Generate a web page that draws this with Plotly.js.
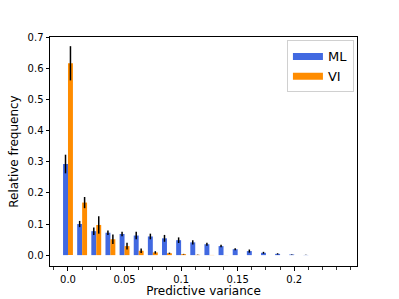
<!DOCTYPE html>
<html>
<head>
<meta charset="utf-8">
<script src="https://cdn.plot.ly/plotly-3.0.1.min.js"></script>
<style>html,body{margin:0;padding:0;background:#fff;}#chart{width:399px;height:299px;}</style>
</head>
<body>
<div id="chart"></div>
<script>
// Bin centres (predictive variance)
var binCenters = [0, 0.0125, 0.025, 0.0375, 0.05, 0.0625, 0.075, 0.0875, 0.1, 0.1125,
                  0.125, 0.1375, 0.15, 0.1625, 0.175, 0.1875, 0.2, 0.2125, 0.225, 0.2375];
var mlValues = [0.293, 0.100, 0.077, 0.072, 0.068, 0.063, 0.060, 0.054, 0.048, 0.041,
                0.035, 0.029, 0.019, 0.013, 0.0075, 0.004, 0.002, 0.0005, 0, 0];
var mlErrors = [0.030, 0.010, 0.012, 0.007, 0.007, 0.012, 0.009, 0.011, 0.009, 0.007,
                0.005, 0.004, 0.003, 0.005, 0.003, 0.002, 0.001, 0.0005, 0, 0];
var viValues = [0.617, 0.169, 0.097, 0.051, 0.029, 0.014, 0.0087, 0.006, 0.003, 0.001,
                0.0005, 0.0002, 0, 0, 0, 0, 0, 0, 0, 0];
var viErrors = [0.055, 0.018, 0.028, 0.015, 0.011, 0.007, 0.004, 0.002, 0.001, 0.0005,
                0, 0, 0, 0, 0, 0, 0, 0, 0, 0];
var xTickVals = [0, 0.05, 0.1, 0.15, 0.2];
var xTickText = ['0.0', '0.05', '0.1', '0.15', '0.2'];
var yTickVals = [0, 0.1, 0.2, 0.3, 0.4, 0.5, 0.6, 0.7];
var seriesNames = ['ML', 'VI'];
var seriesColors = ['#4169E1', '#FF8C00'];

var traces = [
  {type: 'bar', x: binCenters, y: mlValues, name: seriesNames[0], showlegend: false,
   marker: {color: seriesColors[0]},
   error_y: {type: 'data', array: mlErrors, visible: true, color: '#000', thickness: 1.5, width: 0}},
  {type: 'bar', x: binCenters, y: viValues, name: seriesNames[1], showlegend: false,
   marker: {color: seriesColors[1]},
   error_y: {type: 'data', array: viErrors, visible: true, color: '#000', thickness: 1.5, width: 0}},
  {type: 'scatter', mode: 'lines', x: [null], y: [null], name: seriesNames[0],
   line: {color: seriesColors[0], width: 7}, hoverinfo: 'skip'},
  {type: 'scatter', mode: 'lines', x: [null], y: [null], name: seriesNames[1],
   line: {color: seriesColors[1], width: 7}, hoverinfo: 'skip'}
];

var font = {family: 'DejaVu Sans, sans-serif', color: '#000'};
var layout = {
  width: 399, height: 299,
  margin: {l: 50, r: 42, t: 37, b: 33},
  paper_bgcolor: '#fff', plot_bgcolor: '#fff',
  font: font,
  barmode: 'group', bargap: 0.3, bargroupgap: 0,
  showlegend: true,
  legend: {x: 0.99, y: 0.985, xanchor: 'right', yanchor: 'top',
           bgcolor: '#fff', bordercolor: '#d0d0d0', borderwidth: 1,
           font: {family: 'DejaVu Sans, sans-serif', size: 13, color: '#000'},
           itemwidth: 30, tracegroupgap: 4},
  xaxis: {
    range: [-0.0159, 0.2555], tickmode: 'array', tickvals: xTickVals, ticktext: xTickText,
    ticks: 'outside', ticklen: 3.5, tickwidth: 1, tickcolor: '#000',
    minor: {tick0: 0, dtick: 0.0125, ticks: 'outside', ticklen: 3, tickwidth: 0.8, tickcolor: '#000', showgrid: false},
    showline: true, mirror: true, linecolor: '#000', linewidth: 1,
    showgrid: false, zeroline: false,
    tickfont: {family: 'DejaVu Sans, sans-serif', size: 10, color: '#000'},
    title: {text: 'Predictive variance', font: {family: 'DejaVu Sans, sans-serif', size: 12, color: '#000'}, standoff: 3}
  },
  yaxis: {
    range: [-0.035, 0.7015], tickmode: 'array', tickvals: yTickVals, tickformat: '.1f',
    ticks: 'outside', ticklen: 3.5, tickwidth: 1, tickcolor: '#000',
    showline: true, mirror: true, linecolor: '#000', linewidth: 1,
    showgrid: false, zeroline: false,
    tickfont: {family: 'DejaVu Sans, sans-serif', size: 10, color: '#000'},
    title: {text: 'Relative frequency', font: {family: 'DejaVu Sans, sans-serif', size: 12, color: '#000'}, standoff: 6}
  }
};

Plotly.newPlot('chart', traces, layout, {staticPlot: true, displayModeBar: false});
</script>
</body>
</html>
